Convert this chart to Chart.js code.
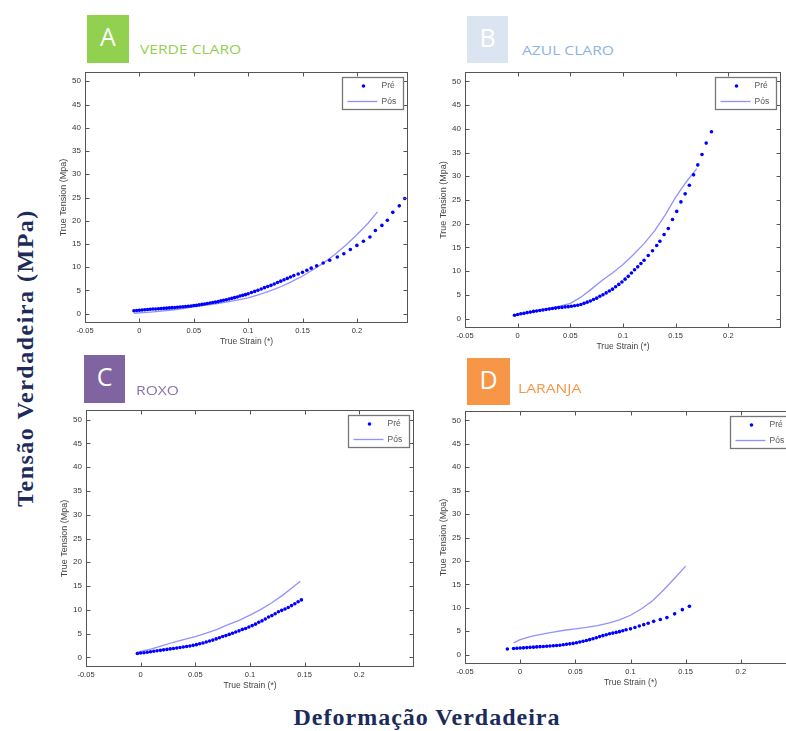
<!DOCTYPE html>
<html>
<head>
<meta charset="utf-8">
<script src="https://cdn.jsdelivr.net/npm/chart.js@4.4.0/dist/chart.umd.min.js"></script>
<style>
    html, body { margin: 0; padding: 0; background: #fff; }
    body { width: 786px; height: 731px; position: relative; overflow: hidden; }
    canvas { position: absolute; }
    .tag { position: absolute; color: #fff; font-family: "Open Sans", sans-serif; font-size: 25px; line-height: 42px; text-align: center; }
    .name { position: absolute; font-family: "Open Sans", sans-serif; font-size: 12px; line-height: 12px; white-space: nowrap; transform: scaleX(1.3); transform-origin: left center; }
    .big { position: absolute; font-family: "Liberation Serif", serif; font-weight: bold; font-size: 24px; line-height: 24px; color: #1c2b5a; white-space: nowrap; letter-spacing: 1px; }
</style>
</head>
<body>
<div class="big" style="left:25px; top:358px; transform: translate(-50%, -50%) rotate(-90deg); letter-spacing:1.5px;">Tensão Verdadeira (MPa)</div>
<div class="big" style="left:427px; top:705px; transform: translateX(-50%);">Deformação Verdadeira</div>

<script>
// panel headers
const panelLetters = ['A', 'B', 'C', 'D'];
const panelNames = ['VERDE CLARO', 'AZUL CLARO', 'ROXO', 'LARANJA'];
const seriesLabels = ['Pré', 'Pós'];

// axis ticks
const xTickValues = [-0.05, 0, 0.05, 0.1, 0.15, 0.2];
const yTickValues = [0, 5, 10, 15, 20, 25, 30, 35, 40, 45, 50];
const xMaxValues = [0.247, 0.25, 0.25, 0.25];

// A - verde claro
const aPreX = [-0.005,-0.0025,0,0.0025,0.005,0.0075,0.01,0.0125,0.015,0.0175,0.02,0.0225,0.025,0.0275,0.03,0.0325,0.035,0.0375,0.04,0.0425,0.045,0.0475,0.05,0.0525,0.055,0.0575,0.06,0.0625,0.065,0.0675,0.07,0.0725,0.075,0.0775,0.08,0.0825,0.085,0.0875,0.09,0.0925,0.095,0.0975,0.1,
    0.103,0.106,0.109,0.112,0.115,0.118,0.121,0.124,0.127,0.13,0.133,0.136,0.139,0.142,
    0.146,0.15,0.154,0.158,0.163,0.169,0.175,0.182,0.188,0.194,0.2,0.206,0.212,0.217,0.223,0.228,0.233,0.239,0.244];
const aPreY = [0.65,0.7,0.75,0.8,0.85,0.9,0.95,1.0,1.0,1.05,1.1,1.15,1.2,1.25,1.3,1.35,1.4,1.45,1.5,1.55,1.6,1.65,1.75,1.8,1.9,2.0,2.1,2.2,2.3,2.4,2.5,2.6,2.75,2.9,3.0,3.15,3.3,3.45,3.6,3.8,3.95,4.1,4.3,
    4.55,4.8,5.05,5.3,5.6,5.85,6.1,6.4,6.7,7.0,7.3,7.6,7.9,8.2,
    8.55,8.9,9.35,9.8,10.3,10.9,11.5,12.2,12.9,13.8,14.7,15.6,16.5,17.9,19.0,20.1,21.8,23.2,24.8];
const aPosX = [-0.005,0.01,0.02,0.03,0.04,0.05,0.06,0.07,0.08,0.09,0.1,0.11,0.12,0.13,0.14,0.15,0.16,0.17,0.18,0.19,0.2,0.21,0.219];
const aPosY = [0.1,0.35,0.55,0.8,1.1,1.45,1.8,2.1,2.5,2.9,3.4,4.1,4.9,5.8,6.9,8.1,9.5,11.0,12.8,14.8,17.0,19.4,21.9];

// B - azul claro
const bPreX = [-0.003,0,0.003,0.006,0.009,0.012,0.015,0.018,0.021,0.024,0.027,0.03,0.033,0.036,0.039,0.042,0.045,0.048,0.051,0.054,0.057,0.06,0.063,0.066,0.069,0.072,0.075,0.078,0.081,0.084,0.087,0.09,0.093,0.096,0.099,0.102,0.105,0.108,0.111,0.114,0.117,0.12,
    0.124,0.128,0.132,0.135,0.139,0.143,0.147,0.151,0.155,0.159,0.163,0.167,0.171,0.175,0.179,0.184];
const bPreY = [0.7,0.85,1.0,1.1,1.25,1.35,1.5,1.6,1.7,1.8,1.9,2.0,2.1,2.2,2.3,2.35,2.45,2.5,2.6,2.7,2.8,2.95,3.2,3.45,3.7,4.0,4.3,4.7,5.0,5.4,5.8,6.2,6.7,7.2,7.7,8.3,8.9,9.6,10.3,10.9,11.6,12.3,
    13.3,14.3,15.4,16.3,17.7,19.0,20.9,22.6,24.6,26.3,28.1,30.3,32.4,34.6,37.0,39.4];
const bPosX = [-0.003,0.01,0.02,0.03,0.04,0.05,0.06,0.07,0.08,0.09,0.1,0.11,0.12,0.13,0.14,0.15,0.16,0.17];
const bPosY = [0.6,1.2,1.8,2.2,2.6,3.2,4.5,6.2,8.0,9.6,11.4,13.5,15.8,18.5,21.8,25.6,28.8,31.6];

// C - roxo
const cPreX = [-0.003,0,0.003,0.006,0.009,0.012,0.015,0.018,0.021,0.024,0.027,0.03,0.033,0.036,0.039,0.042,0.045,0.048,0.051,0.054,0.057,0.06,0.063,0.066,0.069,0.072,0.075,0.078,0.081,0.084,0.087,0.09,0.093,0.096,0.099,0.102,0.105,0.108,0.111,0.114,0.117,0.12,0.123,0.126,0.129,0.132,0.135,0.138,0.141,0.144,0.147];
const cPreY = [0.85,0.95,1.0,1.1,1.2,1.3,1.4,1.5,1.6,1.7,1.8,1.9,2.0,2.1,2.2,2.3,2.4,2.55,2.7,2.9,3.05,3.25,3.45,3.65,3.9,4.15,4.4,4.6,4.85,5.1,5.35,5.6,5.9,6.1,6.4,6.7,7.0,7.4,7.7,8.1,8.5,8.8,9.2,9.6,9.9,10.2,10.5,10.9,11.3,11.7,12.1];
const cPosX = [-0.003,0.01,0.02,0.03,0.04,0.05,0.06,0.07,0.08,0.09,0.1,0.11,0.12,0.13,0.14,0.146];
const cPosY = [1.1,1.8,2.5,3.2,3.8,4.4,5.1,5.9,6.9,7.8,8.9,10.1,11.5,13.1,14.9,16.0];

// D - laranja
const dPreX = [-0.0116,-0.006,-0.003,0,0.003,0.006,0.009,0.012,0.015,0.018,0.021,0.024,0.027,0.03,0.033,0.036,0.039,0.042,0.045,0.048,0.051,0.054,0.057,0.06,0.063,0.066,0.069,0.072,0.075,0.078,0.081,0.084,0.087,0.09,0.093,0.096,0.1,0.104,0.108,0.112,0.116,0.121,0.127,0.133,0.14,0.147,0.1534];
const dPreY = [1.2,1.3,1.35,1.4,1.45,1.5,1.55,1.6,1.65,1.7,1.75,1.8,1.85,1.9,1.95,2.0,2.1,2.2,2.3,2.4,2.55,2.7,2.85,3.0,3.2,3.4,3.6,3.85,4.05,4.25,4.45,4.6,4.75,4.9,5.1,5.3,5.5,5.8,6.1,6.4,6.7,7.1,7.5,7.9,8.7,9.6,10.3];
const dPosX = [-0.006,0,0.01,0.02,0.03,0.04,0.05,0.06,0.07,0.08,0.09,0.1,0.11,0.12,0.13,0.14,0.15];
const dPosY = [2.5,3.2,3.9,4.4,4.8,5.2,5.5,5.8,6.2,6.7,7.4,8.4,9.8,11.5,13.8,16.3,18.9];

// layout (page pixels)
const canvasBoxes = [
    { left: 40, top: 60, width: 374, height: 297 },
    { left: 420, top: 60, width: 367, height: 302 },
    { left: 41, top: 398, width: 379, height: 303 },
    { left: 420, top: 399, width: 382, height: 299 }
];
const tagBoxes = [
    { left: 87, top: 15, width: 42, height: 48, bg: '#92d050', nameLeft: 140, nameTop: 44, color: '#92d050' },
    { left: 467, top: 16, width: 41, height: 47, bg: '#dbe5f1', nameLeft: 522, nameTop: 45, color: '#8db3e2' },
    { left: 84, top: 355, width: 41, height: 48, bg: '#8064a2', nameLeft: 136, nameTop: 385, color: '#8b72ad' },
    { left: 467, top: 358, width: 43, height: 47, bg: '#f79646', nameLeft: 518, nameTop: 383, color: '#f79646' }
];

function zip(xs, ys) {
    const out = [];
    for (let i = 0; i < Math.min(xs.length, ys.length); i++) {
        out.push({ x: xs[i], y: ys[i] });
    }
    return out;
}

const panels = [
    [zip(aPreX, aPreY), zip(aPosX, aPosY)],
    [zip(bPreX, bPreY), zip(bPosX, bPosY)],
    [zip(cPreX, cPreY), zip(cPosX, cPosY)],
    [zip(dPreX, dPreY), zip(dPosX, dPosY)]
];

// MATLAB style box, inward ticks and boxed legend
const matlabBox = {
    id: 'matlabBox',
    afterDraw(chart) {
        const { ctx, chartArea: a, scales } = chart;
        ctx.save();
        ctx.strokeStyle = '#555';
        ctx.lineWidth = 1;
        const l = Math.round(a.left) + 0.5, t = Math.round(a.top) + 0.5;
        const r = Math.round(a.right) - 0.5, b = Math.round(a.bottom) - 0.5;
        ctx.strokeRect(l, t, r - l, b - t);
        ctx.beginPath();
        scales.x.ticks.forEach(tk => {
            const px = Math.round(scales.x.getPixelForValue(tk.value)) + 0.5;
            ctx.moveTo(px, b); ctx.lineTo(px, b - 4);
            ctx.moveTo(px, t); ctx.lineTo(px, t + 4);
        });
        scales.y.ticks.forEach(tk => {
            const py = Math.round(scales.y.getPixelForValue(tk.value)) + 0.5;
            ctx.moveTo(l, py); ctx.lineTo(l + 4, py);
            ctx.moveTo(r, py); ctx.lineTo(r - 4, py);
        });
        ctx.stroke();

        // legend
        const w = 61, h = 32;
        const x0 = Math.round(a.right - 5 - w) + 0.5, y0 = Math.round(a.top + 5) + 0.5;
        const pre = chart.data.datasets[0], pos = chart.data.datasets[1];
        ctx.fillStyle = '#fff';
        ctx.fillRect(x0, y0, w, h);
        ctx.strokeStyle = '#777';
        ctx.lineWidth = 1.3;
        ctx.strokeRect(x0, y0, w, h);
        ctx.fillStyle = pre.pointBackgroundColor;
        ctx.beginPath();
        ctx.arc(x0 + 21, y0 + 8.5, pre.pointRadius, 0, Math.PI * 2);
        ctx.fill();
        ctx.strokeStyle = pos.borderColor;
        ctx.lineWidth = pos.borderWidth;
        ctx.beginPath();
        ctx.moveTo(x0 + 5, y0 + 24);
        ctx.lineTo(x0 + 35, y0 + 24);
        ctx.stroke();
        ctx.fillStyle = '#555';
        ctx.font = '8.5px "Liberation Sans"';
        ctx.textBaseline = 'middle';
        ctx.fillText(pre.label, x0 + 39, y0 + 8.5);
        ctx.fillText(pos.label, x0 + 39, y0 + 24);
        ctx.restore();
    }
};

Chart.defaults.font.family = '"Liberation Sans", Arial, sans-serif';

panels.forEach(function (sets, i) {
    const box = canvasBoxes[i];
    const cv = document.createElement('canvas');
    cv.width = box.width;
    cv.height = box.height;
    cv.style.left = box.left + 'px';
    cv.style.top = box.top + 'px';
    document.body.appendChild(cv);

    const tb = tagBoxes[i];
    const tag = document.createElement('div');
    tag.className = 'tag';
    tag.textContent = panelLetters[i];
    tag.style.cssText = `left:${tb.left}px;top:${tb.top}px;width:${tb.width}px;height:${tb.height}px;background:${tb.bg};`;
    document.body.appendChild(tag);
    const nm = document.createElement('div');
    nm.className = 'name';
    nm.textContent = panelNames[i];
    nm.style.left = tb.nameLeft + 'px';
    nm.style.top = tb.nameTop + 'px';
    nm.style.color = tb.color;
    document.body.appendChild(nm);

    new Chart(cv.getContext('2d'), {
        type: 'scatter',
        data: {
            datasets: [{
                label: seriesLabels[0],
                data: sets[0],
                showLine: false,
                pointRadius: 1.8,
                pointBackgroundColor: '#0000ff',
                pointBorderWidth: 0
            }, {
                label: seriesLabels[1],
                data: sets[1],
                showLine: true,
                pointRadius: 0,
                borderColor: 'rgba(110, 110, 255, 0.75)',
                borderWidth: 1.3,
                tension: 0
            }]
        },
        options: {
            responsive: false,
            animation: false,
            devicePixelRatio: 1,
            layout: { padding: { top: 12, right: 6, left: 0, bottom: 0 } },
            plugins: { legend: { display: false }, tooltip: { enabled: false } },
            scales: {
                x: {
                    type: 'linear',
                    min: -0.05,
                    max: xMaxValues[i],
                    afterBuildTicks: s => { s.ticks = xTickValues.map(v => ({ value: v })); },
                    afterFit: s => { s.height = 34; },
                    grid: { display: false, drawTicks: false },
                    border: { display: false },
                    ticks: {
                        padding: 3,
                        color: '#333',
                        font: { size: 7.5 },
                        maxRotation: 0,
                        autoSkip: false,
                        callback: v => String(Math.round(v * 100) / 100)
                    },
                    title: {
                        display: true,
                        text: 'True Strain (*)',
                        color: '#444',
                        font: { size: 8.5 },
                        padding: { top: 0, bottom: 10 }
                    }
                },
                y: {
                    type: 'linear',
                    min: -2,
                    max: 52,
                    afterBuildTicks: s => { s.ticks = yTickValues.map(v => ({ value: v })); },
                    afterFit: s => { s.width = 45; },
                    grid: { display: false, drawTicks: false },
                    border: { display: false },
                    ticks: {
                        padding: 4,
                        color: '#333',
                        font: { size: 8 },
                        autoSkip: false
                    },
                    title: {
                        display: true,
                        text: 'True Tension (Mpa)',
                        color: '#444',
                        font: { size: 9 },
                        padding: { top: 18, bottom: 0 }
                    }
                }
            }
        },
        plugins: [matlabBox]
    });
});
</script>
</body>
</html>
